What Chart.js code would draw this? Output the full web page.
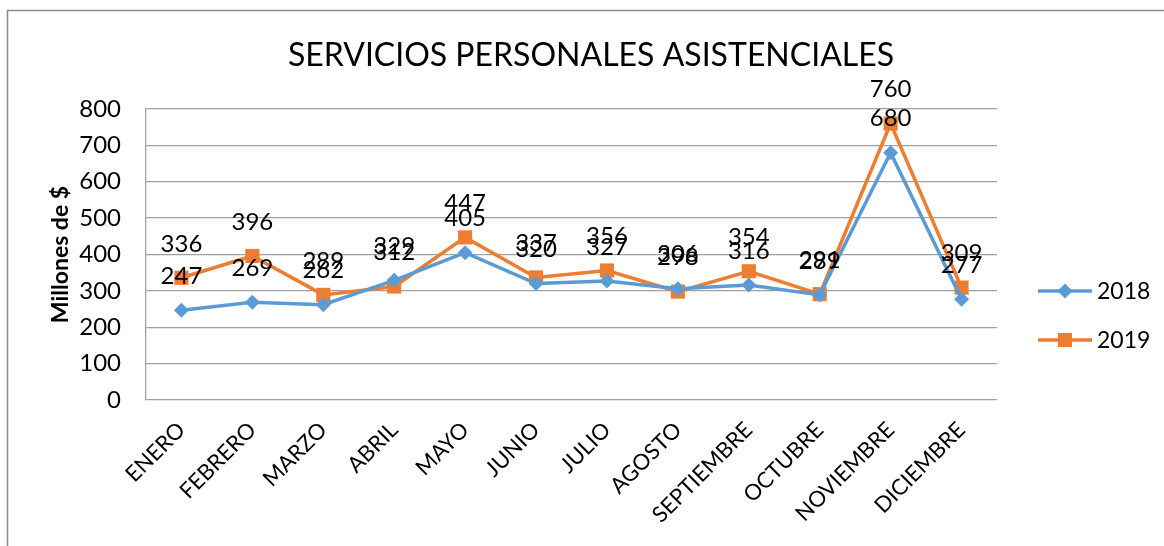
<!DOCTYPE html>
<html>
<head>
<meta charset="utf-8">
<script src="https://cdn.jsdelivr.net/npm/chart.js@4"></script>
<style>
  html, body { margin: 0; padding: 0; background: #fff; }
  #wrap { width: 1164px; height: 546px; position: relative; }
</style>
</head>
<body>
<div id="wrap"><canvas id="myChart" width="1164" height="546"></canvas></div>
<script>
const meses = ["ENERO", "FEBRERO", "MARZO", "ABRIL", "MAYO", "JUNIO", "JULIO", "AGOSTO", "SEPTIEMBRE", "OCTUBRE", "NOVIEMBRE", "DICIEMBRE"];
const valores2018 = [247, 269, 262, 329, 405, 320, 327, 306, 316, 289, 680, 277];
const valores2019 = [336, 396, 289, 312, 447, 337, 356, 298, 354, 291, 760, 309];
const yTicks = [0, 100, 200, 300, 400, 500, 600, 700, 800];
const titulo = "SERVICIOS PERSONALES ASISTENCIALES";

const fuente = "Lato, 'Open Sans', sans-serif";
const azul = "#5B9BD5";
const naranja = "#ED7D31";

// titulo, etiquetas de datos, leyenda y borde exterior
const extras = {
  id: "extras",
  afterDraw(chart) {
    const ctx = chart.ctx;
    ctx.save();
    ctx.strokeStyle = "#8c8c8c";
    ctx.lineWidth = 1.5;
    ctx.strokeRect(7.5, 10.5, 3000, 3000);

    ctx.fillStyle = "#000";
    ctx.textAlign = "center";
    ctx.textBaseline = "middle";
    ctx.font = "32px " + fuente;
    ctx.fillText(titulo, 591, 56);

    ctx.font = "24px " + fuente;
    chart.data.datasets.forEach((ds, i) => {
      chart.getDatasetMeta(i).data.forEach((pt, j) => {
        ctx.fillText(ds.data[j], pt.x, pt.y - 34);
      });
    });

    // leyenda
    const items = [
      { label: "2018", color: azul, y: 291, style: "rectRot", r: 7.5 },
      { label: "2019", color: naranja, y: 340, style: "rect", r: 10 },
    ];
    items.forEach((it) => {
      ctx.strokeStyle = it.color;
      ctx.lineWidth = 3.5;
      ctx.beginPath();
      ctx.moveTo(1038, it.y);
      ctx.lineTo(1092, it.y);
      ctx.stroke();
      ctx.fillStyle = it.color;
      Chart.helpers.drawPoint(ctx, { pointStyle: it.style, radius: it.r, borderWidth: 0 }, 1065, it.y);
      ctx.fillStyle = "#000";
      ctx.textAlign = "left";
      ctx.font = "23px " + fuente;
      ctx.fillText(it.label, 1097, it.y + 1);
    });
    ctx.restore();
  },
};

const chartElement = document.getElementById("myChart");
const myChart = new Chart(chartElement, {
  type: "line",
  data: {
    labels: meses,
    datasets: [
      {
        label: "2018",
        data: valores2018,
        borderColor: azul,
        backgroundColor: azul,
        borderWidth: 3.5,
        pointStyle: "rectRot",
        pointRadius: 7.5,
        pointBorderWidth: 0,
        tension: 0,
      },
      {
        label: "2019",
        data: valores2019,
        borderColor: naranja,
        backgroundColor: naranja,
        borderWidth: 3.5,
        pointStyle: "rect",
        pointRadius: 10,
        pointBorderWidth: 0,
        tension: 0,
      },
    ],
  },
  options: {
    responsive: false,
    animation: false,
    layout: { padding: { left: 47, right: 167, top: 109, bottom: 0 } },
    plugins: {
      legend: { display: false },
      tooltip: { enabled: false },
      title: { display: false },
    },
    scales: {
      x: {
        offset: true,
        grid: { display: false },
        border: { display: false },
        ticks: {
          color: "#000",
          font: { family: fuente, size: 22 },
          maxRotation: 45,
          minRotation: 45,
          autoSkip: false,
          padding: 9,
        },
        afterFit: (scale) => { scale.height = 146; },
      },
      y: {
        min: 0,
        max: 800,
        afterBuildTicks: (scale) => { scale.ticks = yTicks.map((v) => ({ value: v })); },
        grid: { color: "#a0a0a0", lineWidth: 1.3, drawTicks: false },
        border: { display: true, color: "#a0a0a0", width: 1.3 },
        ticks: {
          color: "#000",
          font: { family: fuente, size: 24 },
          padding: 25,
        },
        title: {
          display: true,
          text: "Millones de $",
          color: "#000",
          font: { family: fuente, size: 23, weight: "bold" },
          padding: { top: 0, bottom: 8 },
        },
        afterFit: (scale) => { scale.width = 99; },
      },
    },
  },
  plugins: [extras],
});
</script>
</body>
</html>
